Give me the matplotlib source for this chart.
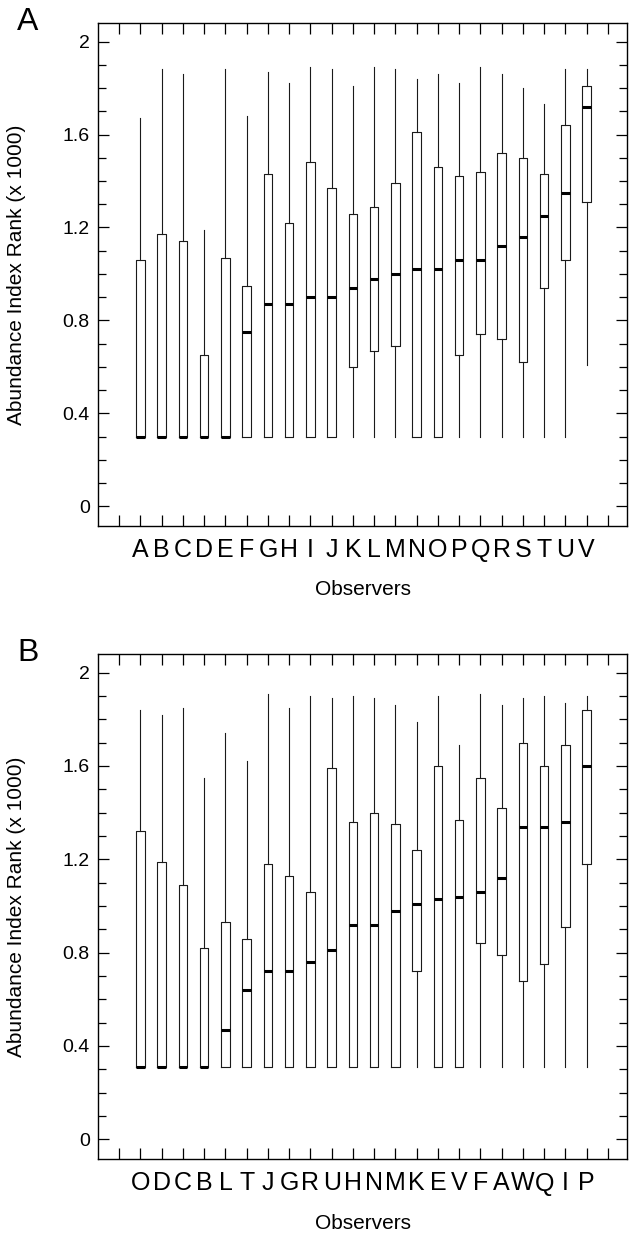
import matplotlib
matplotlib.use('Agg')
import matplotlib.pyplot as plt
from matplotlib.ticker import MultipleLocator, FixedLocator

plt.rcParams['font.family'] = ['Liberation Sans', 'DejaVu Sans']

# panel A: observers in alphabetical order
obs_a = list('ABCDEFGHIJKLMNOPQRSTUV')
lo_a = [0.30] * 21 + [0.61]
q1_a = [0.30, 0.30, 0.30, 0.30, 0.30, 0.30, 0.30, 0.30, 0.30, 0.30, 0.60,
        0.67, 0.69, 0.30, 0.30, 0.65, 0.74, 0.72, 0.62, 0.94, 1.06, 1.31]
med_a = [0.30, 0.30, 0.30, 0.30, 0.30, 0.75, 0.87, 0.87, 0.90, 0.90, 0.94,
         0.98, 1.00, 1.02, 1.02, 1.06, 1.06, 1.12, 1.16, 1.25, 1.35, 1.72]
q3_a = [1.06, 1.17, 1.14, 0.65, 1.07, 0.95, 1.43, 1.22, 1.48, 1.37, 1.26,
        1.29, 1.39, 1.61, 1.46, 1.42, 1.44, 1.52, 1.50, 1.43, 1.64, 1.81]
hi_a = [1.67, 1.88, 1.86, 1.19, 1.88, 1.68, 1.87, 1.82, 1.89, 1.88, 1.81,
        1.89, 1.88, 1.84, 1.86, 1.82, 1.89, 1.86, 1.80, 1.73, 1.88, 1.88]

# panel B: observers sorted by median
obs_b = ['O', 'D', 'C', 'B', 'L', 'T', 'J', 'G', 'R', 'U', 'H', 'N', 'M',
         'K', 'E', 'V', 'F', 'A', 'W', 'Q', 'I', 'P']
lo_b = [0.31] * 22
q1_b = [0.31, 0.31, 0.31, 0.31, 0.31, 0.31, 0.31, 0.31, 0.31, 0.31, 0.31,
        0.31, 0.31, 0.72, 0.31, 0.31, 0.84, 0.79, 0.68, 0.75, 0.91, 1.18]
med_b = [0.31, 0.31, 0.31, 0.31, 0.47, 0.64, 0.72, 0.72, 0.76, 0.81, 0.92,
         0.92, 0.98, 1.01, 1.03, 1.04, 1.06, 1.12, 1.34, 1.34, 1.36, 1.60]
q3_b = [1.32, 1.19, 1.09, 0.82, 0.93, 0.86, 1.18, 1.13, 1.06, 1.59, 1.36,
        1.40, 1.35, 1.24, 1.60, 1.37, 1.55, 1.42, 1.70, 1.60, 1.69, 1.84]
hi_b = [1.84, 1.82, 1.85, 1.55, 1.74, 1.62, 1.91, 1.85, 1.90, 1.89, 1.90,
        1.89, 1.86, 1.79, 1.90, 1.69, 1.91, 1.86, 1.89, 1.90, 1.87, 1.90]

ytick_vals = [0, 0.4, 0.8, 1.2, 1.6, 2.0]
ytick_labels = ['0', '0.4', '0.8', '1.2', '1.6', '2']


def make_stats(lo, q1, med, q3, hi):
    return [dict(whislo=a, q1=b, med=c, q3=d, whishi=e, fliers=[])
            for a, b, c, d, e in zip(lo, q1, med, q3, hi)]


def draw_panel(ax, names, stats, letter, letter_y):
    n = len(names)
    line = dict(color='#1a1a1a', linewidth=0.8)
    ax.bxp(stats, positions=range(1, n + 1), widths=0.4, showcaps=False,
           showfliers=False, boxprops=line, whiskerprops=line,
           medianprops=dict(color='black', linewidth=2.2,
                            solid_capstyle='butt'))
    ax.set_xlim(-1, 23.9)
    ax.set_ylim(-0.085, 2.08)

    ax.xaxis.set_major_locator(FixedLocator(range(0, n + 2)))
    ax.set_xticklabels([''] + names + [''], fontsize=18)
    ax.yaxis.set_major_locator(FixedLocator(ytick_vals))
    ax.set_yticklabels(ytick_labels, fontsize=14)
    ax.yaxis.set_minor_locator(MultipleLocator(0.1))

    ax.tick_params(axis='x', which='major', direction='in', length=8,
                   width=0.9, top=True, pad=9)
    ax.tick_params(axis='y', which='major', direction='in', length=8,
                   width=0.9, right=True, pad=6)
    ax.tick_params(axis='y', which='minor', direction='in', length=6,
                   width=0.9, right=True)
    for sp in ax.spines.values():
        sp.set_linewidth(1.0)

    ax.set_ylabel('Abundance Index Rank (x 1000)', fontsize=15)
    ax.yaxis.set_label_coords(-0.136, 0.5)
    ax.set_xlabel('Observers', fontsize=15)
    ax.xaxis.set_label_coords(0.5, -0.127)
    ax.xaxis.label.set_va('center')

    fig.text(28 / 629, letter_y, letter, ha='center', va='center',
             fontsize=23)


fig = plt.figure(figsize=(6.29, 12.34), dpi=100)
ax_a = fig.add_axes([98 / 629, 1 - 526 / 1234, 529 / 629, 503 / 1234])
ax_b = fig.add_axes([98 / 629, 1 - 1159 / 1234, 529 / 629, 505 / 1234])

draw_panel(ax_a, obs_a, make_stats(lo_a, q1_a, med_a, q3_a, hi_a), 'A',
           1 - 22 / 1234)
draw_panel(ax_b, obs_b, make_stats(lo_b, q1_b, med_b, q3_b, hi_b), 'B',
           1 - 653 / 1234)

fig.savefig('out.png', dpi=100)
